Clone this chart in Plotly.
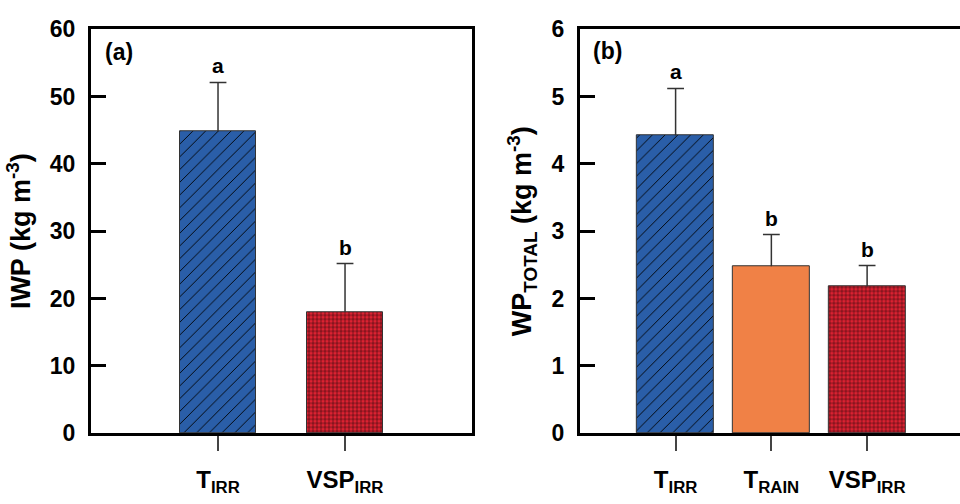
import plotly.graph_objects as go

# ---- data ----
cats_a = ["T<sub>IRR</sub>", "VSP<sub>IRR</sub>"]
iwp = [44.8, 18.0]
iwp_err = [7.3, 7.2]
letters_a = ["a", "b"]

cats_b = ["T<sub>IRR</sub>", "T<sub>RAIN</sub>", "VSP<sub>IRR</sub>"]
wp_total = [4.42, 2.48, 2.18]
wp_err = [0.70, 0.47, 0.31]
letters_b = ["a", "b", "b"]

colors_a = ["#2a5ea8", "#dc2232"]
patterns_a = ["/", "+"]
colors_b = ["#2a5ea8", "#f08146", "#dc2232"]
patterns_b = ["/", "", "+"]
pat_size_a = [9, 4]
pat_size_b = [9, 8, 4]
pat_sol_a = [0.1, 0.2]
pat_sol_b = [0.1, 0.3, 0.2]

FONT = "Liberation Sans, Arial, sans-serif"
ERRC = "#333333"

fig = go.Figure()


def add_panel(cats, vals, errs, colors, patterns, sizes, sols, width, xa, ya):
    for c, v, e, col, p, s, so in zip(cats, vals, errs, colors, patterns, sizes, sols):
        marker = dict(color=col, line=dict(color="#333333", width=1))
        if p:
            marker["pattern"] = dict(shape=p, fgcolor="#000000", bgcolor=col,
                                     fillmode="replace", fgopacity=1,
                                     size=s, solidity=so)
        fig.add_trace(go.Bar(
            x=[c], y=[v], width=width, marker=marker,
            error_y=dict(type="data", symmetric=False, array=[e],
                         arrayminus=[0], color=ERRC, thickness=1.5, width=0),
            xaxis=xa, yaxis=ya, showlegend=False))
    tops = [v + e for v, e in zip(vals, errs)]
    fig.add_trace(go.Scatter(
        x=cats, y=tops, mode="markers",
        marker=dict(symbol="line-ew", size=12, line=dict(color=ERRC, width=1.5)),
        xaxis=xa, yaxis=ya, showlegend=False, hoverinfo="skip"))


add_panel(cats_a, iwp, iwp_err, colors_a, patterns_a, pat_size_a, pat_sol_a, 0.6, "x", "y")
add_panel(cats_b, wp_total, wp_err, colors_b, patterns_b, pat_size_b, pat_sol_b, 0.8, "x2", "y2")

annotations = []
for c, v, e, t in zip(cats_a, iwp, iwp_err, letters_a):
    annotations.append(dict(x=c, y=v + e, xref="x", yref="y", text="<b>%s</b>" % t,
                            showarrow=False, yanchor="bottom", yshift=3,
                            font=dict(size=21, color="black", family=FONT)))
for c, v, e, t in zip(cats_b, wp_total, wp_err, letters_b):
    annotations.append(dict(x=c, y=v + e, xref="x2", yref="y2", text="<b>%s</b>" % t,
                            showarrow=False, yanchor="bottom", yshift=3,
                            font=dict(size=21, color="black", family=FONT)))
annotations.append(dict(x=0.107, y=0.918, xref="paper", yref="paper", text="<b>(a)</b>",
                        showarrow=False, xanchor="left", yanchor="middle",
                        font=dict(size=23, color="black", family=FONT)))
annotations.append(dict(x=0.616, y=0.921, xref="paper", yref="paper", text="<b>(b)</b>",
                        showarrow=False, xanchor="left", yanchor="middle",
                        font=dict(size=23, color="black", family=FONT)))

tickfont_y = dict(size=23, color="black", family=FONT, weight="bold")
tickfont_x = dict(size=24, color="black", family=FONT, weight="bold")
title_font = dict(size=27, color="black", family=FONT, weight="bold")

common_x = dict(type="category", showline=True, linewidth=3, linecolor="black",
                ticks="outside", ticklen=15, tickwidth=1.5, tickcolor="#444444",
                tickfont=tickfont_x, showgrid=False, zeroline=False,
                ticklabelstandoff=8)
common_y = dict(showline=True, linewidth=3, linecolor="black",
                ticks="inside", ticklen=15, tickwidth=3, tickcolor="black",
                tickfont=tickfont_y, showgrid=False, zeroline=False,
                ticklabelstandoff=8)

fig.update_layout(
    width=960, height=504,
    margin=dict(l=0, r=0, t=0, b=0),
    paper_bgcolor="white", plot_bgcolor="white",
    barmode="overlay", bargap=0,
    xaxis=dict(domain=[0.0948, 0.4917], range=[-1.0, 2.0], mirror=True,
               categoryorder="array", categoryarray=cats_a, **common_x),
    yaxis=dict(domain=[0.121, 0.966], range=[0, 60], dtick=10, mirror=True,
               title=dict(text="IWP (kg m<sup>-3</sup>)", font=title_font, standoff=12),
               **common_y),
    xaxis2=dict(domain=[0.604, 1.0], range=[-1.0, 2.97], mirror=True, anchor="y2",
                categoryorder="array", categoryarray=cats_b, **common_x),
    yaxis2=dict(domain=[0.121, 0.966], range=[0, 6], dtick=1, anchor="x2",
                title=dict(text="WP<sub>TOTAL</sub> (kg m<sup>-3</sup>)", font=title_font, standoff=12),
                **common_y),
    annotations=annotations,
)

fig.write_html("out.html")
